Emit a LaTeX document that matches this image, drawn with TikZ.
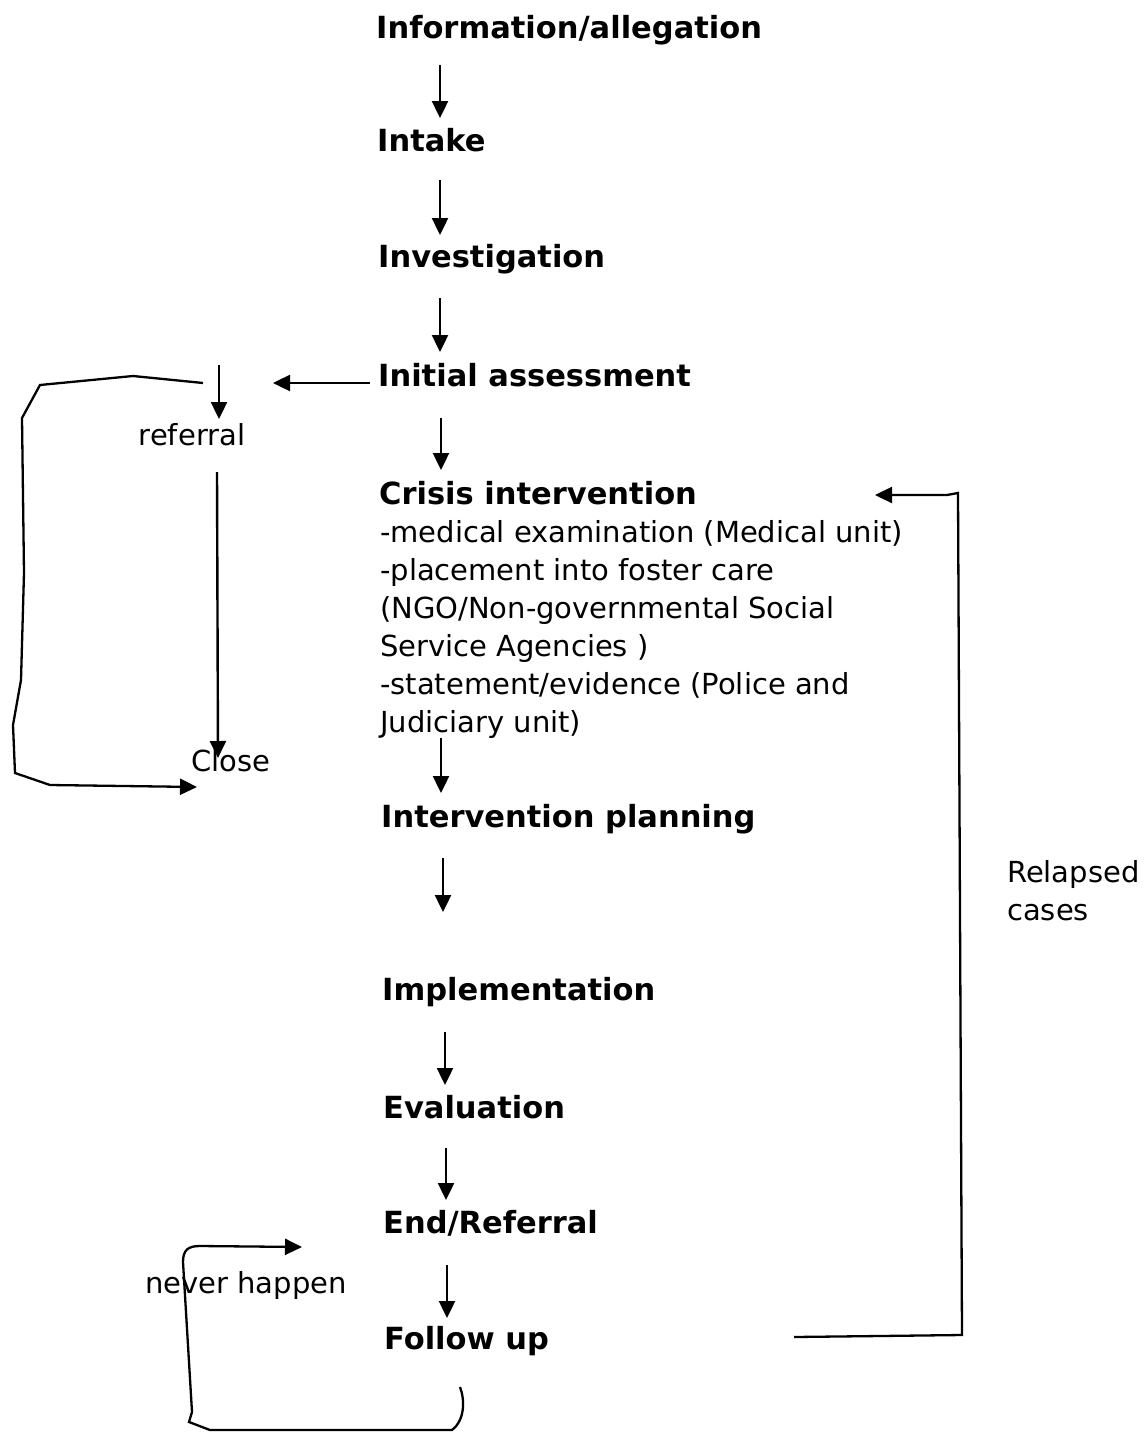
\documentclass[tikz,border=0pt]{standalone}
\usepackage{fontspec}
\setmainfont{DejaVu Sans}
\usetikzlibrary{arrows.meta}
\begin{document}
\begin{tikzpicture}[x=1pt,y=-1pt,
  head/.style={anchor=west,inner sep=0pt,font=\fontsize{30.5}{36}\selectfont\bfseries},
  plain/.style={inner sep=0pt,font=\fontsize{29}{38}\selectfont},
  conn/.style={line width=2.4pt,-{Triangle[length=17pt,width=16pt]}},
  hand/.style={line width=2.3pt}]
\useasboundingbox (0,0) rectangle (1144,1432);
\fill[white] (0,0) rectangle (1144,1432);
% main column
\node[head] (info) at (376,30) {Information/allegation};
\node[head] (intake) at (377,140) {Intake};
\node[head] (invest) at (378,259) {Investigation};
\node[head] (init) at (378,375) {Initial assessment};
\node[head] (crisis) at (379,493) {Crisis intervention};
\node[plain,anchor=north west,align=left] (crisisdet) at (380,520) {-medical examination (Medical unit)\\-placement into foster care\\(NGO/Non-governmental Social\\Service Agencies )\\-statement/evidence (Police and\\Judiciary unit)};
\node[head] (plan) at (381,819) {Intervention planning};
\node[head] (impl) at (382,992) {Implementation};
\node[head] (eval) at (383,1107) {Evaluation};
\node[head] (end) at (383,1223) {End/Referral};
\node[head] (follow) at (384,1341) {Follow up};
% side texts
\node[plain] (referral) at (192,435) {referral};
\node[plain] (close) at (231,761) {Close};
\node[plain,align=left,anchor=west] (relapsed) at (1007,891) {Relapsed\\cases};
\node[plain] (never) at (246,1285) {never happen};
% coordinates for arrows
\coordinate (a1s) at (440,65); \coordinate (a1e) at (440,118);
\coordinate (a2s) at (440,180); \coordinate (a2e) at (440,235);
\coordinate (a3s) at (440,298); \coordinate (a3e) at (440,352);
\coordinate (a4s) at (441,418); \coordinate (a4e) at (441,470);
\coordinate (a5s) at (441,738); \coordinate (a5e) at (441,793);
\coordinate (a6s) at (443,858); \coordinate (a6e) at (443,912);
\coordinate (a7s) at (445,1032); \coordinate (a7e) at (445,1085);
\coordinate (a8s) at (446,1148); \coordinate (a8e) at (446,1200);
\coordinate (a9s) at (447,1265); \coordinate (a9e) at (447,1318);
\draw[conn] (a1s) -- (a1e);
\draw[conn] (a2s) -- (a2e);
\draw[conn] (a3s) -- (a3e);
\draw[conn] (a4s) -- (a4e);
\draw[conn] (a5s) -- (a5e);
\draw[conn] (a6s) -- (a6e);
\draw[conn] (a7s) -- (a7e);
\draw[conn] (a8s) -- (a8e);
\draw[conn] (a9s) -- (a9e);
% to referral
\coordinate (rin) at (273,383);
\draw[conn] (init.west) ++(-8,8) -- (rin);
\coordinate (rs) at (219,365); \coordinate (re) at (219,419);
\draw[conn] (rs) -- (re);
\coordinate (cs) at (217,472); \coordinate (ce) at (218,758);
\draw[conn] (cs) -- (ce);
% left hand-drawn loop
\coordinate (ltip) at (197,787);
\draw[hand,-{Triangle[length=17pt,width=16pt]}] (203,383) -- (133,376) -- (40,385) -- (22,418) -- (24,573) -- (21,680) -- (13,725) -- (15,773) -- (50,785) -- (ltip);
% relapsed loop
\coordinate (rtip) at (875,495);
\draw[hand,-{Triangle[length=17pt,width=16pt]}] (794,1337) -- (880,1336) -- (962,1335) -- (958,493) -- (947,495) -- (rtip);
% never happen loop
\coordinate (ntip) at (302,1247);
\draw[hand,-{Triangle[length=17pt,width=16pt]}] (460,1387) .. controls (465,1400) and (465,1420) .. (452,1430) -- (210,1430) -- (189,1422) -- (192,1412) -- (183,1262) .. controls (183,1250) and (188,1246) .. (200,1246) -- (ntip);
\end{tikzpicture}
\end{document}
